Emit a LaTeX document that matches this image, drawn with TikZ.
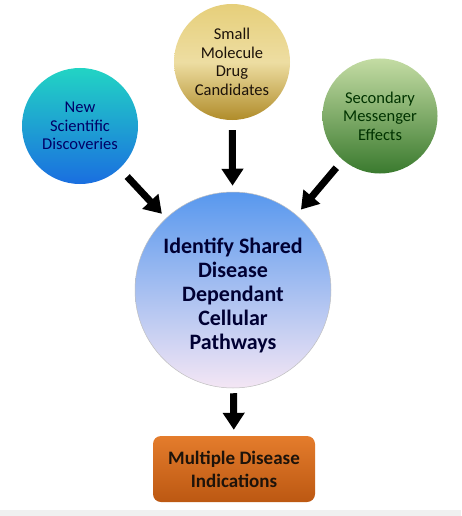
\documentclass[tikz,border=0pt]{standalone}
\usepackage{fontspec}
\setmainfont{Carlito}
\usetikzlibrary{arrows.meta}
\definecolor{leftT}{HTML}{22D4C4}
\definecolor{leftB}{HTML}{1A6EE0}
\definecolor{topT}{HTML}{E6CF7A}
\definecolor{topB}{HTML}{B08C2A}
\definecolor{rightT}{HTML}{C4DCA4}
\definecolor{rightB}{HTML}{3A7A2E}
\definecolor{cenT}{HTML}{5898EE}
\definecolor{cenB}{HTML}{F4E6F4}
\definecolor{boxT}{HTML}{E47C2C}
\definecolor{boxB}{HTML}{BC5812}
\tikzset{
  bubble/.style={circle, align=center, inner sep=0pt, font=\fontsize{16.5}{18.5}\selectfont},
  bigarrow/.style={line width=7pt, -{Triangle[length=17pt,width=21pt]}, black},
}
\begin{document}
\begin{tikzpicture}[x=1pt,y=-1pt]
\useasboundingbox (0,0) rectangle (461,516);
\fill[white] (0,0) rectangle (461,516);
\fill[black!6] (0,510) rectangle (461,516);
\node[bubble, minimum size=116pt, top color=leftT, bottom color=leftB, text=blue!40!black] (sci) at (80,126) {New\\Scientific\\Discoveries};
\node[bubble, minimum size=116pt, top color=topT, bottom color=topB, middle color=topT!70!white, text=black!85!brown] (drug) at (232,62) {Small\\Molecule\\Drug\\Candidates};
\node[bubble, minimum size=115pt, top color=rightT, bottom color=rightB, text=black!80!green] (msg) at (380,116) {Secondary\\Messenger\\Effects};
\node[bubble, minimum size=196pt, top color=cenT, bottom color=cenB, draw=black!25, line width=0.5pt] (path) at (233,290) {};
\node[align=center, inner sep=0pt, font=\bfseries\fontsize{22}{24}\selectfont, text=blue!20!black] (pathtext) at (233,295) {Identify Shared\\Disease\\Dependant\\Cellular\\Pathways};
\node[rounded corners=8pt, minimum width=162pt, minimum height=66pt, top color=boxT, bottom color=boxB, align=center, font=\bfseries\fontsize{19}{23}\selectfont, text=black!85!brown] (ind) at (234,469) {Multiple Disease\\Indications};
\draw[bigarrow, shorten <=11pt, shorten >=6pt] (sci) -- (path);
\draw[bigarrow, shorten <=10pt, shorten >=6pt] (drug) -- (path);
\draw[bigarrow, shorten <=10pt, shorten >=7pt] (msg) -- (path);
\draw[bigarrow, shorten <=5pt, shorten >=6pt] (path) -- (ind);
\end{tikzpicture}
\end{document}
